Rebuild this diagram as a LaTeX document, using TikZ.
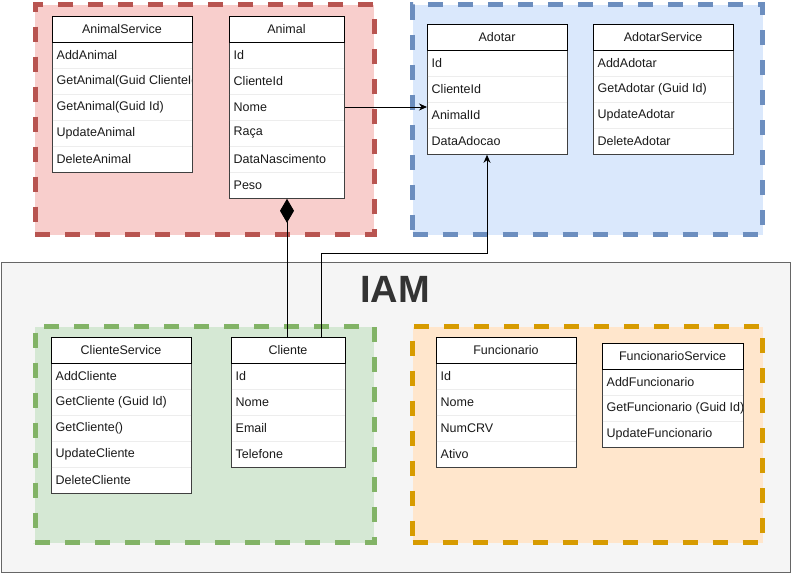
\documentclass[tikz,border=0pt]{standalone}
\usepackage{fontspec}
\setmainfont{Liberation Sans}
\usetikzlibrary{arrows.meta,calc}
\definecolor{redfill}{HTML}{F8CECC}
\definecolor{redline}{HTML}{B85450}
\definecolor{bluefill}{HTML}{DAE8FC}
\definecolor{blueline}{HTML}{6C8EBF}
\definecolor{greenfill}{HTML}{D5E8D4}
\definecolor{greenline}{HTML}{82B366}
\definecolor{orangefill}{HTML}{FFE6CC}
\definecolor{orangeline}{HTML}{D79B00}
\definecolor{iamfill}{HTML}{F5F5F5}
\definecolor{iamline}{HTML}{666666}
\definecolor{iamtext}{HTML}{333333}
\definecolor{septext}{HTML}{1A1A1A}
\definecolor{sepline}{HTML}{EDEDED}
\tikzset{
  grp/.style={rectangle, anchor=north west, inner sep=0pt, line width=5pt, dash pattern=on 15pt off 15pt},
  tblbox/.style={rectangle, anchor=north west, inner sep=0pt, draw=black!75, fill=white, line width=0.8pt},
  hdrtxt/.style={inner sep=0pt, font=\fontsize{12.5}{14}\selectfont, text=septext},
  rowtxt/.style={inner sep=0pt, anchor=west, font=\fontsize{12.5}{14}\selectfont, text=septext},
  hdrline/.style={draw=black, line width=0.8pt},
  sepln/.style={draw=sepline, line width=0.8pt},
  conn/.style={draw=black, line width=0.9pt},
}
\newcommand\umlbox[7]{%
  \pgfmathsetmacro\bh{26*(#7+1)}%
  \node[tblbox, minimum width=#4pt, minimum height=\bh pt] (#1) at (#2,#3) {};
  \foreach \i in {2,...,#7} {\draw[sepln] ({#2+0.5},{#3+26*\i}) -- ({#2+#4-0.5},{#3+26*\i});}
  \begin{scope}
    \clip (#2,#3) rectangle ({#2+#4-0.6},{#3+\bh});
    \foreach \t [count=\i] in {#6} {\node[rowtxt] (#1-\i) at ({#2+4.5},{#3+13+26*\i}) {\t};}
  \end{scope}
  \draw[hdrline] (#2,#3) rectangle ({#2+#4},{#3+26});
  \node[hdrtxt] (#1-title) at ({#2+#4/2},{#3+13}) {#5};
}
\begin{document}
\begin{tikzpicture}[x=1pt,y=-1pt]
\useasboundingbox (0,0) rectangle (792,573);
\fill[white] (0,0) rectangle (792,573);
% IAM background
\node[rectangle, anchor=north west, inner sep=0pt, draw=iamline, fill=iamfill, line width=0.9pt,
      minimum width=789pt, minimum height=310pt] (iam) at (1,262) {};
\node[inner sep=0pt, font=\bfseries\fontsize{38}{40}\selectfont, text=iamtext] (iamlabel) at (395,289) {IAM};
% groups
\node[grp, draw=redline, fill=redfill, minimum width=339pt, minimum height=230pt] (animalgrp) at (32.5,2) {};
\node[grp, draw=blueline, fill=bluefill, minimum width=350pt, minimum height=230pt] (adotargrp) at (410,2) {};
\node[grp, draw=greenline, fill=greenfill, minimum width=339pt, minimum height=216pt] (clientegrp) at (32.5,324) {};
\node[grp, draw=orangeline, fill=orangefill, minimum width=350pt, minimum height=216pt] (funcgrp) at (410,324) {};
% tables
\umlbox{animalsvc}{52}{16}{140}{AnimalService}{AddAnimal,GetAnimal(Guid ClienteId),GetAnimal(Guid Id),UpdateAnimal,DeleteAnimal}{5}
\umlbox{animal}{229}{16}{115}{Animal}{Id,ClienteId,Nome,Raça,DataNascimento,Peso}{6}
\umlbox{adotar}{427}{24}{140}{Adotar}{Id,ClienteId,AnimalId,DataAdocao}{4}
\umlbox{adotarsvc}{593}{24}{140}{AdotarService}{AddAdotar,GetAdotar (Guid Id),UpdateAdotar,DeleteAdotar}{4}
\umlbox{clientesvc}{51}{337}{140}{ClienteService}{AddCliente,GetCliente (Guid Id),GetCliente(),UpdateCliente,DeleteCliente}{5}
\umlbox{cliente}{231}{337}{114}{Cliente}{Id,Nome,Email,Telefone}{4}
\umlbox{func}{436}{337}{140}{Funcionario}{Id,Nome,NumCRV,Ativo}{4}
\umlbox{funcsvc}{602}{343}{141}{FuncionarioService}{AddFuncionario,GetFuncionario (Guid Id),UpdateFuncionario}{3}
% connectors
\draw[conn, -{Stealth[length=8pt,width=7pt]}] (animal.east |- animal-3.west) -- (adotar.west |- animal-3.west);
\coordinate (cl1) at ($(cliente.north west)+(56,0)$);
\draw[conn, {Diamond[length=24pt,width=14pt]}-] (cl1 |- animal.south) -- (cl1);
\coordinate (cl2) at ($(cliente.north west)+(90,0)$);
\coordinate (ad1) at ($(adotar.south west)+(60,0)$);
\draw[conn, -{Stealth[length=8pt,width=7pt]}] (cl2) -- ++(0,-84) -| (ad1);
\end{tikzpicture}
\end{document}
